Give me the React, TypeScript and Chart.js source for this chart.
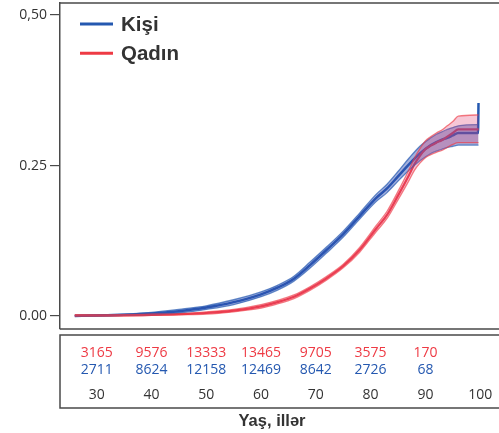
import React, { useEffect, useRef } from "react";
import { Chart, registerables } from "chart.js";

Chart.register(...registerables);

// Kişi (blue)
const kisiAges = [26, 30, 35, 40, 45, 50, 55, 60, 63, 66, 69, 72, 75, 78, 81, 83, 85, 87, 89, 91, 92, 93, 94, 95, 96, 99.6, 99.7];
const kisiMid = [0.000, 0.001, 0.002, 0.004, 0.008, 0.014, 0.023, 0.036, 0.047, 0.062, 0.085, 0.110, 0.136, 0.166, 0.196, 0.212, 0.232, 0.252, 0.270, 0.284, 0.289, 0.293, 0.296, 0.300, 0.304, 0.304, 0.354];
const kisiLow = [0.000, 0.000, 0.001, 0.002, 0.005, 0.011, 0.019, 0.032, 0.043, 0.058, 0.080, 0.105, 0.131, 0.161, 0.190, 0.205, 0.224, 0.242, 0.258, 0.270, 0.274, 0.277, 0.280, 0.282, 0.284, 0.284, 0.284];
const kisiHigh = [0.001, 0.002, 0.003, 0.006, 0.011, 0.017, 0.027, 0.040, 0.051, 0.066, 0.090, 0.115, 0.141, 0.171, 0.202, 0.219, 0.240, 0.262, 0.282, 0.296, 0.302, 0.306, 0.310, 0.313, 0.316, 0.318, 0.318];

// Qadın (red)
const qadinAges = [26, 30, 40, 45, 50, 55, 60, 63, 66, 69, 72, 75, 78, 81, 83, 85, 87, 88, 89, 90, 91, 92, 93, 94, 95, 96, 99.7];
const qadinMid = [0.001, 0.001, 0.002, 0.003, 0.005, 0.009, 0.016, 0.023, 0.032, 0.046, 0.063, 0.083, 0.110, 0.145, 0.168, 0.200, 0.234, 0.252, 0.266, 0.277, 0.283, 0.288, 0.292, 0.298, 0.304, 0.310, 0.310];
const qadinLow = [0.000, 0.000, 0.001, 0.002, 0.003, 0.007, 0.013, 0.020, 0.029, 0.043, 0.060, 0.080, 0.106, 0.140, 0.162, 0.193, 0.225, 0.242, 0.254, 0.263, 0.268, 0.272, 0.275, 0.280, 0.285, 0.288, 0.288];
const qadinHigh = [0.002, 0.002, 0.003, 0.004, 0.007, 0.011, 0.019, 0.026, 0.035, 0.049, 0.066, 0.086, 0.114, 0.150, 0.174, 0.207, 0.243, 0.262, 0.278, 0.291, 0.298, 0.304, 0.309, 0.316, 0.323, 0.332, 0.334];

// Number at risk
const riskAges = [30, 40, 50, 60, 70, 80, 90];
const qadinRisk = ["3165", "9576", "13333", "13465", "9705", "3575", "170"];
const kisiRisk = ["2711", "8624", "12158", "12469", "8642", "2726", "68"];

const xTicks = [30, 40, 50, 60, 70, 80, 90, 100];
const yTicks = [0, 0.25, 0.5];
const yTickLabels = ["0.00", "0.25", "0,50"];

const legendLabels = ["Kişi", "Qadın"];

const BLUE = "#2458b0";
const RED = "#ee3a44";
const TEXT = "#333333";
const FRAME = "#4a4a4a";

const pts = (xs: number[], ys: number[]) => xs.map((x, i) => ({ x, y: ys[i] }));

const framePlugin = {
  id: "framePlugin",
  afterDraw(chart: any) {
    const { ctx, chartArea, scales } = chart;
    const W = chart.width;
    ctx.save();
    ctx.strokeStyle = FRAME;
    ctx.lineWidth = 1.5;
    // plot frame (top & bottom)
    ctx.beginPath();
    ctx.moveTo(chartArea.left, chartArea.top);
    ctx.lineTo(W, chartArea.top);
    ctx.moveTo(chartArea.left, chartArea.bottom);
    ctx.lineTo(W, chartArea.bottom);
    ctx.stroke();
    // risk table box
    const tTop = chartArea.bottom + 6;
    const tBottom = chartArea.bottom + 79;
    ctx.beginPath();
    ctx.moveTo(W, tTop);
    ctx.lineTo(chartArea.left, tTop);
    ctx.lineTo(chartArea.left, tBottom);
    ctx.lineTo(W, tBottom);
    ctx.stroke();
    // numbers at risk
    ctx.font = "14px 'Open Sans'";
    ctx.textAlign = "center";
    ctx.textBaseline = "middle";
    const xs = scales.x;
    riskAges.forEach((a, i) => {
      const px = xs.getPixelForValue(a);
      ctx.fillStyle = RED;
      ctx.fillText(qadinRisk[i], px, chartArea.bottom + 24);
      ctx.fillStyle = BLUE;
      ctx.fillText(kisiRisk[i], px, chartArea.bottom + 41);
    });
    // legend
    const colors = [BLUE, RED];
    ctx.font = "bold 20.5px 'Liberation Sans', Arial";
    ctx.textAlign = "left";
    legendLabels.forEach((lab, i) => {
      const y = chartArea.top + 21 + i * 29.3;
      ctx.strokeStyle = colors[i];
      ctx.lineWidth = 3;
      ctx.beginPath();
      ctx.moveTo(chartArea.left + 20, y);
      ctx.lineTo(chartArea.left + 53, y);
      ctx.stroke();
      ctx.fillStyle = TEXT;
      ctx.fillText(lab, chartArea.left + 61, y + 1);
    });
    ctx.restore();
  },
};

export default function App() {
  const ref = useRef<HTMLCanvasElement | null>(null);
  useEffect(() => {
    if (!ref.current) return;
    const band = (xs: number[], lo: number[], hi: number[], fillColor: string, edge: string, w: number) => [
      {
        data: pts(xs, lo),
        borderColor: edge,
        borderWidth: w,
        pointRadius: 0,
        fill: false,
        cubicInterpolationMode: "monotone",
      },
      {
        data: pts(xs, hi),
        borderColor: edge,
        borderWidth: w,
        pointRadius: 0,
        fill: "-1",
        backgroundColor: fillColor,
        cubicInterpolationMode: "monotone",
      },
    ];
    const chart = new Chart(ref.current, {
      type: "line",
      data: {
        datasets: [
          ...band(qadinAges, qadinLow, qadinHigh, "rgba(225,70,120,0.30)", "rgba(238,58,68,0.65)", 1.3),
          ...band(kisiAges, kisiLow, kisiHigh, "rgba(50,80,180,0.45)", "rgba(36,88,176,0.7)", 1.3),
          {
            label: "Qadın",
            data: pts(qadinAges, qadinMid),
            borderColor: RED,
            backgroundColor: RED,
            borderWidth: 2.2,
            pointRadius: 0,
            fill: false,
            cubicInterpolationMode: "monotone",
          },
          {
            label: "Kişi",
            data: pts(kisiAges, kisiMid),
            borderColor: BLUE,
            backgroundColor: BLUE,
            borderWidth: 2.5,
            pointRadius: 0,
            fill: false,
            cubicInterpolationMode: "monotone",
          },
        ] as any,
      },
      options: {
        animation: false,
        responsive: false,
        maintainAspectRatio: false,
        layout: { padding: { top: 3, right: 15, left: 0, bottom: 0 } },
        plugins: {
          tooltip: { enabled: false },
          legend: { display: false },
        },
        scales: {
          x: {
            type: "linear",
            min: 23.3,
            max: 100.7,
            grid: { display: false, drawTicks: false },
            border: { display: false },
            afterBuildTicks: (s: any) => {
              s.ticks = xTicks.map((v) => ({ value: v }));
            },
            afterFit: (s: any) => {
              s.height = 104;
              s.paddingLeft = 0;
              s.paddingRight = 0;
            },
            ticks: {
              padding: 57.5,
              color: TEXT,
              font: { family: "'Open Sans'", size: 14 },
              maxRotation: 0,
              autoSkip: false,
              callback: (v: any) => String(v),
            },
            title: {
              display: true,
              text: "Yaş, illər",
              color: TEXT,
              font: { family: "'Liberation Sans', Arial", size: 16.5, weight: "bold" },
              padding: { top: 0, bottom: 1.5 },
            },
          },
          y: {
            type: "linear",
            min: -0.0216,
            max: 0.52,
            grid: {
              drawOnChartArea: false,
              drawTicks: true,
              tickLength: 10,
              color: FRAME,
              lineWidth: 1.2,
            },
            border: { display: true, color: FRAME, width: 1.5 },
            afterBuildTicks: (s: any) => {
              s.ticks = yTicks.map((v) => ({ value: v }));
            },
            afterFit: (s: any) => {
              s.width = 60;
              s.paddingTop = 0;
              s.paddingBottom = 0;
            },
            ticks: {
              padding: 3,
              color: TEXT,
              font: { family: "'Open Sans'", size: 14 },
              callback: (v: any) => {
                const i = yTicks.indexOf(Number(v));
                return i >= 0 ? yTickLabels[i] : "";
              },
            },
          },
        },
      } as any,
      plugins: [framePlugin],
    });
    return () => chart.destroy();
  }, []);
  return (
    <div style={{ position: "fixed", left: 0, top: 0, width: 499, height: 433, background: "#fff" }}>
      <canvas ref={ref} width={499} height={433} style={{ width: 499, height: 433 }} />
    </div>
  );
}
